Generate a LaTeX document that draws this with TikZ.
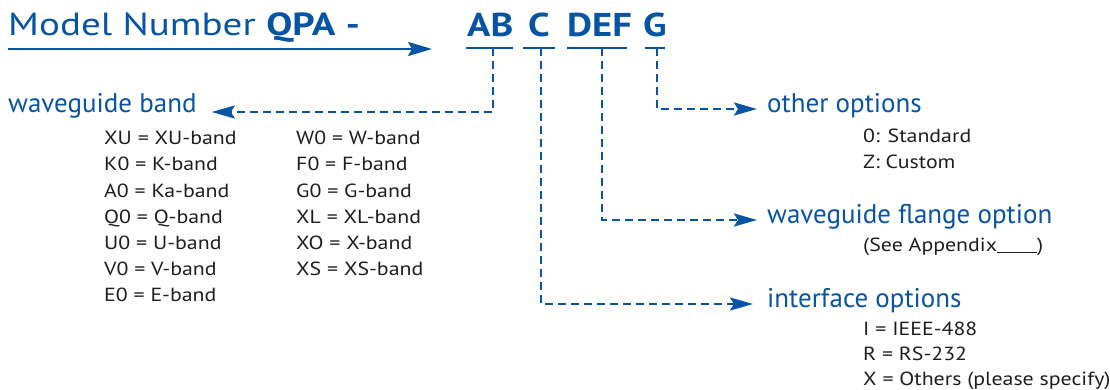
\documentclass[tikz,border=0pt]{standalone}
\usepackage{fontspec}
\setmainfont{PT Sans}
\newfontfamily\titlefont[FakeStretch=1.22]{PT Sans}
\newfontfamily\codefont[FakeStretch=1.17]{PT Sans}
\newfontfamily\bodyfont[FakeStretch=1.15]{PT Sans}
\usetikzlibrary{arrows.meta}
\definecolor{qblue}{RGB}{8,84,164}
\definecolor{qtext}{RGB}{30,30,30}
\tikzset{
  lbl/.style={anchor=base west,inner sep=0pt},
  title/.style={lbl,text=qblue,font=\titlefont\fontsize{32}{34}\selectfont},
  code/.style={lbl,text=qblue,font=\codefont\fontsize{33}{34}\selectfont\bfseries},
  head/.style={lbl,text=qblue,font=\fontsize{27}{30}\selectfont},
  body/.style={lbl,text=qtext,font=\bodyfont\fontsize{19}{22}\selectfont},
  uline/.style={draw=qblue,line width=2.6pt},
  dl/.style={draw=qblue,line width=2.5pt,dash pattern=on 8pt off 5pt,
    -{Stealth[length=23pt,width=13pt,inset=4pt,sep=0pt]}},
  mainarrow/.style={draw=qblue,line width=2.6pt,
    -{Stealth[length=24pt,width=14pt,inset=4pt]}},
}
\begin{document}
\begin{tikzpicture}[x=1pt,y=-1pt]
\useasboundingbox (0,0) rectangle (1110,390);
% title
\node[title] (title) at (8,36) {Model Number \textbf{QPA} \textbf{-}};
\coordinate (arrstart) at (8,49);
\coordinate (arrend) at (432,49);
\draw[mainarrow] (arrstart) -- (arrend);
% code letters
\node[code] (ab) at (467,37) {AB};
\node[code] (c) at (528,37) {C};
\node[code] (def) at (567,37) {DEF};
\node[code] (g) at (643,37) {G};
% underlines
\coordinate (abL) at (466,48); \coordinate (abR) at (513,48);
\coordinate (cL) at (523,48); \coordinate (cR) at (555,48);
\coordinate (defL) at (567,48); \coordinate (defR) at (627,48);
\coordinate (gL) at (645,48); \coordinate (gR) at (665,48);
\draw[uline] (abL) -- (abR);
\draw[uline] (cL) -- (cR);
\draw[uline] (defL) -- (defR);
\draw[uline] (gL) -- (gR);
\coordinate (abd) at (493,48);
\coordinate (cd) at (541,48);
\coordinate (defd) at (602,48);
\coordinate (gd) at (657,48);
% headings
\node[head] (band) at (8,113) {waveguide band};
\node[head] (other) at (767,113) {other options};
\node[head] (flange) at (767,223) {waveguide flange option};
\node[head] (iface) at (767,307) {interface options};
% connectors
\draw[dl] (abd) |- ([xshift=15pt,yshift=1pt]band.base east);
\draw[dl] (gd) |- ([xshift=-10pt,yshift=4pt]other.base west);
\draw[dl] (defd) |- ([xshift=-10pt,yshift=3pt]flange.base west);
\draw[dl] (cd) |- ([xshift=-14pt,yshift=3pt]iface.base west);
% band table
\node[body] (xu) at (104,145) {XU = XU-band};
\node[body] (k0) at (104,171) {K0 = K-band};
\node[body] (a0) at (104,197) {A0 = Ka-band};
\node[body] (q0) at (104,223) {Q0 = Q-band};
\node[body] (u0) at (104,249) {U0 = U-band};
\node[body] (v0) at (104,275) {V0 = V-band};
\node[body] (e0) at (104,301) {E0 = E-band};
\node[body] (w0) at (296,145) {W0 = W-band};
\node[body] (f0) at (296,171) {F0 = F-band};
\node[body] (g0) at (296,197) {G0 = G-band};
\node[body] (xl) at (296,223) {XL = XL-band};
\node[body] (xo) at (296,249) {XO = X-band};
\node[body] (xs) at (296,275) {XS = XS-band};
% options
\node[body] (std) at (863,143) {0: Standard};
\node[body] (cust) at (863,168) {Z: Custom};
\node[body] (app) at (863,251) {(See Appendix\rule[-1.5pt]{40pt}{1pt})};
\node[body] (ieee) at (863,335) {I = IEEE-488};
\node[body] (rs) at (863,360) {R = RS-232};
\node[body] (oth) at (863,385) {X = Others (please specify)};
\end{tikzpicture}
\end{document}
